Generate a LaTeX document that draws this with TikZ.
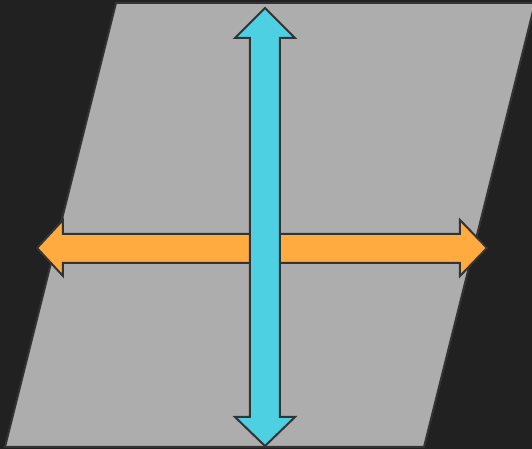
\documentclass[tikz,border=0pt]{standalone}
\usetikzlibrary{calc}
\definecolor{Backdrop}{HTML}{212121}
\definecolor{Plane}{HTML}{ADADAD}
\definecolor{Edge}{HTML}{333333}
\definecolor{Cyan}{HTML}{4DD0E1}
\definecolor{Amber}{HTML}{FFAB40}
\begin{document}
\begin{tikzpicture}[x=0.5pt,y=-0.5pt,line join=miter]
        \fill[Backdrop] (0,0) rectangle (532,449);
        \useasboundingbox (0,0) rectangle (532,449);
        \clip (0,0) rectangle (532,449);
        % tilted plane
        \draw[Edge,fill=Plane,line width=1pt] (5,447) -- (424,447) -- (535,3) -- (116,3) -- cycle;
        % horizontal axis
        \draw[Edge,fill=Amber,line width=1pt] (37,248) -- (63,220) -- (63,234) -- (460,234) -- (460,220) -- (487,248)
          -- (460,276) -- (460,263) -- (63,263) -- (63,276) -- cycle;
        % vertical axis
        \draw[Edge,fill=Cyan,line width=1pt] (265,8) -- (295,38) -- (280,38) -- (280,417) -- (295,417) -- (265,446)
          -- (235,417) -- (250,417) -- (250,38) -- (235,38) -- cycle;
      \end{tikzpicture}
\end{document}
